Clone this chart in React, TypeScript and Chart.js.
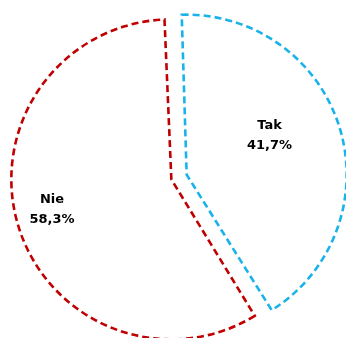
import React, { useEffect, useRef } from "react";
import { Chart, registerables } from "chart.js";

Chart.register(...registerables);

const categories = ["Tak", "Nie"];
const values = [41.7, 58.3];
const valueLabels = ["41,7%", "58,3%"];
const borderColors = ["#1ab2ea", "#c00000"];

const SIZE = 400;
const CX = 178.5;
const CY = 176.5;
const DRAWN_RADIUS = 160;

// keep both exploded slices at the same visible radius
const radiusPlugin = {
  id: "equalRadius",
  beforeDatasetsDraw(chart: any) {
    const meta = chart.getDatasetMeta(0);
    meta.data.forEach((arc: any) => {
      const off = (arc.options.offset || 0) / 4;
      const fix = 1 - Math.sin(Math.min(Math.PI, arc.circumference || 0));
      arc.outerRadius = DRAWN_RADIUS - off * fix;
    });
  },
};

const labelPlugin = {
  id: "sliceLabels",
  afterDatasetsDraw(chart: any) {
    const ctx = chart.ctx;
    const meta = chart.getDatasetMeta(0);
    const adjust = [-7.6, 2.4];
    const frac = [0.622, 0.82];
    ctx.save();
    ctx.font = "bold 13px 'DejaVu Sans'";
    ctx.fillStyle = "#000";
    ctx.textAlign = "center";
    ctx.textBaseline = "middle";
    meta.data.forEach((arc: any, i: number) => {
      const mid = (arc.startAngle + arc.endAngle) / 2 + (adjust[i] * Math.PI) / 180;
      const r = DRAWN_RADIUS * frac[i];
      const x = arc.x + Math.cos(mid) * r;
      const y = arc.y + Math.sin(mid) * r;
      ctx.fillText(categories[i], x, y - 10);
      ctx.fillText(valueLabels[i], x, y + 10);
    });
    ctx.restore();
  },
};

export default function App() {
  const ref = useRef<HTMLCanvasElement>(null);
  useEffect(() => {
    if (!ref.current) return;
    const chart = new Chart(ref.current, {
      type: "pie",
      data: {
        labels: categories,
        datasets: [
          {
            data: values,
            backgroundColor: "#ffffff",
            borderColor: borderColors,
            borderWidth: 2.6,
            borderDash: [7, 4],
            borderJoinStyle: "miter",
            offset: 32,
          } as any,
        ],
      },
      options: {
        responsive: false,
        animation: false,
        rotation: -2,
        radius: 152,
        layout: { padding: 0 },
        plugins: {
          legend: { display: false },
          tooltip: { enabled: false },
        },
      } as any,
      plugins: [radiusPlugin, labelPlugin],
    });
    return () => chart.destroy();
  }, []);
  return (
    <div
      style={{
        position: "fixed",
        left: 0,
        top: 0,
        width: 346,
        height: 338,
        overflow: "hidden",
        background: "#fff",
      }}
    >
      <canvas
        ref={ref}
        width={SIZE}
        height={SIZE}
        style={{
          position: "absolute",
          left: CX - SIZE / 2,
          top: CY - SIZE / 2,
          width: SIZE,
          height: SIZE,
        }}
      />
    </div>
  );
}
